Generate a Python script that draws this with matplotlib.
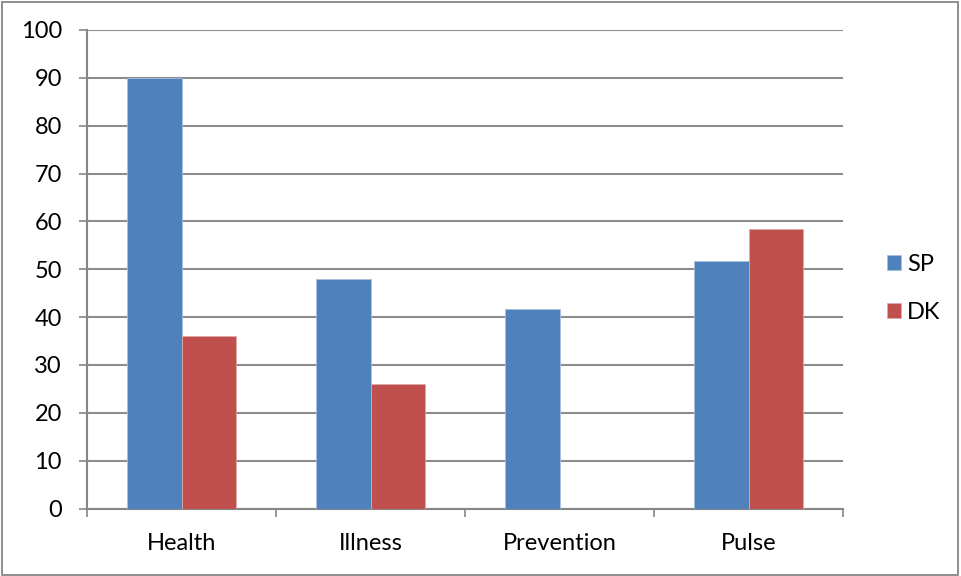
import matplotlib
matplotlib.use("Agg")
import matplotlib.pyplot as plt
from matplotlib.patches import Rectangle
import numpy as np

categories = ["Health", "Illness", "Prevention", "Pulse"]
sp_values = [90, 48, 41.7, 51.7]
dk_values = [36, 26, 0, 58.5]
y_ticks = [0, 10, 20, 30, 40, 50, 60, 70, 80, 90, 100]

plt.rcParams["font.family"] = ["Lato", "DejaVu Sans"]

fig = plt.figure(figsize=(9.61, 5.76), dpi=100)
ax = fig.add_axes([87 / 961, 1 - 508.5 / 576, (843 - 87) / 961, (508.5 - 30) / 576])

x = np.arange(len(categories))
w = 0.286
ax.bar(x - w / 2, sp_values, width=w, color="#4F81BD", edgecolor="#A7BFDE",
       linewidth=0.6, label="SP", zorder=3)
ax.bar(x + w / 2, [v if v > 0 else np.nan for v in dk_values], width=w,
       color="#C0504D", edgecolor="#DFA8A6", linewidth=0.6, label="DK", zorder=3)

ax.set_xlim(-0.5, len(categories) - 0.5)
ax.set_ylim(0, 100)
ax.set_yticks(y_ticks)
ax.set_yticklabels([str(t) for t in y_ticks])
ax.yaxis.grid(True, color="#8C8C8C", linewidth=1.5, zorder=0)
ax.set_axisbelow(True)

# category labels centred, tick marks on category boundaries
ax.set_xticks(x)
ax.set_xticklabels(categories)
ax.set_xticks(np.arange(-0.5, len(categories)), minor=True)
ax.tick_params(axis="x", which="major", length=0, pad=18, labelsize=17)
ax.tick_params(axis="x", which="minor", length=6, width=1.2, color="#868686")
ax.tick_params(axis="y", length=6, width=1.2, color="#868686", labelsize=17, pad=12)

for side in ("top", "right"):
    ax.spines[side].set_visible(False)
for side in ("left", "bottom"):
    ax.spines[side].set_color("#868686")
    ax.spines[side].set_linewidth(1.5)

leg = ax.legend(loc="center left", bbox_to_anchor=(1.03, 0.46), frameon=False,
                fontsize=17, handlelength=0.6, handleheight=0.6,
                handletextpad=0.25, labelspacing=1.15)

fig.patches.append(Rectangle((2 / 961, 1 / 576), 956 / 961, 573 / 576,
                             transform=fig.transFigure, fill=False,
                             edgecolor="#868686", linewidth=1.3))

fig.savefig("out.png", dpi=100)
